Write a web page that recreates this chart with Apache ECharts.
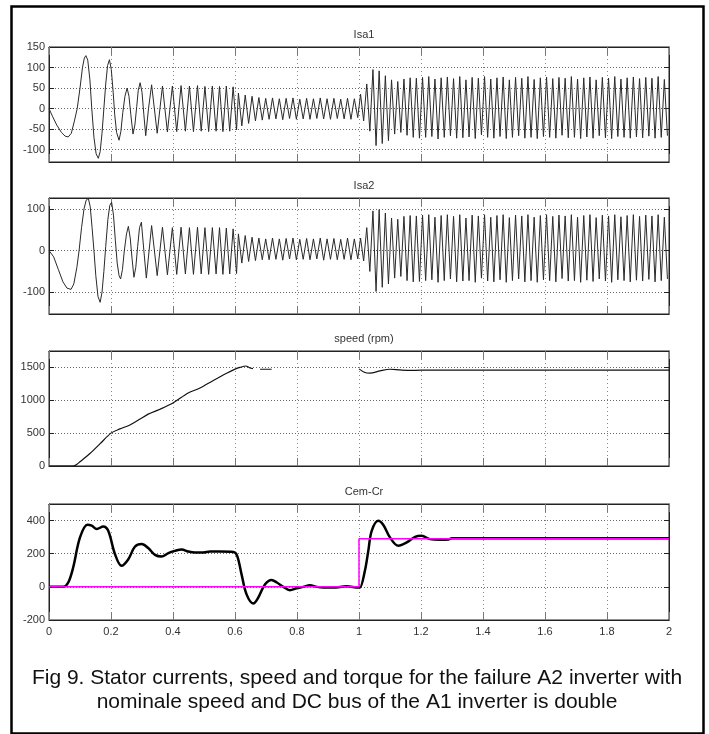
<!DOCTYPE html>
<html>
<head>
<meta charset="utf-8">
<script src="https://cdn.jsdelivr.net/npm/echarts@6/dist/echarts.min.js"></script>
<style>
  html, body { margin: 0; padding: 0; background: #fff; }
  #chart { width: 709px; height: 734px; }
</style>
</head>
<body>
<div id="chart"></div>
<script>
// ---- Stator current Isa1 (A) ----
// start-up transient, [time s, current A]
const isa1Start = [
  [0,0],[0.012,-20],[0.025,-40],[0.04,-58],[0.052,-67],[0.062,-69],[0.072,-60],[0.082,-30],
  [0.091,0],[0.1,50],[0.108,100],[0.114,123],[0.119,129],[0.125,118],[0.132,70],[0.138,0],
  [0.145,-70],[0.152,-110],[0.159,-121],[0.165,-105],[0.171,-60],[0.177,0],[0.183,60],[0.189,105],
  [0.195,119],[0.201,95],[0.207,40],[0.212,-15],[0.218,-58],[0.226,-77],[0.232,-55],[0.238,-10],
  [0.245,30],[0.252,50],[0.258,30],[0.264,-15],[0.271,-62],[0.277,-40],[0.283,5],[0.288,45],
  [0.294,63],[0.3,40],[0.306,-15],[0.312,-66],[0.321,0],[0.331,58],[0.349,-60],[0.366,55],
  [0.382,-57],[0.398,55],[0.412,-56],[0.426,56],[0.44,-55],[0.453,55],[0.466,-56],[0.479,56],
  [0.491,-55],[0.503,54],[0.515,-56],[0.527,55],[0.539,-55],[0.55,54],[0.561,-56],[0.572,55],
  [0.583,-55],[0.594,53],[0.605,-52]
];
// half-cycle peaks after the A2 failure (sampled every 11 ms from 0.611 s)
const isa1FaultStart = 0.611, isa1FaultStep = 0.011;
const isa1Fault = [38,-42,33,-36,30,-30,27,-28,25,-26,26,-25,24,-27,25,-24,26,-26,23,-25,
  25,-26,24,-24,26,-25,24,-26,25,-24,23,-25,25,-26,24,-22];
// half-cycle peaks with doubled DC bus (every 10 ms from 1.005 s)
const isa1DoubleStart = 1.005, isa1DoubleStep = 0.01;
const isa1Double = [
  35,-30,60,-55,95,-90,92,-85,80,-78, 70,-62,66,-58,72,-65,75,-70,74,-72,
  76,-70,78,-68,72,-74,75,-70,77,-66, 73,-72,78,-71,70,-69,76,-73,74,-64,
  78,-70,72,-72,75,-68,77,-73,70,-70, 76,-66,74,-72,78,-70,71,-73,75,-68,
  77,-70,73,-72,76,-65,74,-71,78,-70, 72,-73,75,-69,77,-72,70,-66,76,-71,
  74,-73,78,-68,72,-70,75,-72,77,-69, 73,-71,76,-67,74,-72,78,-70,71,-66];

// ---- Stator current Isa2 (A) ----
const isa2Start = [
  [0,0],[0.015,-15],[0.03,-45],[0.045,-75],[0.058,-90],[0.071,-93],[0.08,-80],[0.09,-40],
  [0.097,0],[0.105,55],[0.113,100],[0.12,121],[0.127,125],[0.133,105],[0.139,55],[0.145,0],
  [0.151,-60],[0.158,-110],[0.165,-124],[0.171,-100],[0.177,-50],[0.183,10],[0.19,75],[0.196,108],
  [0.202,116],[0.208,85],[0.214,25],[0.22,-30],[0.226,-60],[0.231,-68],[0.237,-45],[0.243,0],
  [0.25,40],[0.256,58],[0.262,30],[0.268,-20],[0.274,-64],[0.28,-40],[0.286,10],[0.292,55],
  [0.298,68],[0.306,0],[0.314,-66],[0.331,60],[0.349,-60],[0.366,56],[0.382,-58],[0.398,55],
  [0.412,-57],[0.426,56],[0.44,-56],[0.453,55],[0.466,-57],[0.479,56],[0.491,-56],[0.503,55],
  [0.515,-57],[0.527,55],[0.539,-56],[0.55,55],[0.561,-57],[0.572,54],[0.583,-56],[0.594,52],
  [0.605,-55]
];
const isa2FaultStart = 0.611, isa2FaultStep = 0.011;
const isa2Fault = [40,-30,36,-26,32,-24,30,-22,28,-22,30,-21,28,-23,29,-20,30,-22,27,-21,
  29,-22,28,-20,30,-23,28,-21,29,-22,27,-21,30,-22,28,-20];
const isa2DoubleStart = 1.005, isa2DoubleStep = 0.01;
const isa2Double = [
  30,-25,55,-50,95,-98,98,-88,90,-80, 78,-66,75,-62,82,-72,84,-75,83,-74,
  85,-72,86,-70,80,-76,84,-72,86,-68, 82,-75,86,-73,78,-72,85,-76,83,-66,
  86,-73,80,-75,84,-70,86,-76,79,-72, 85,-68,83,-75,86,-72,80,-76,84,-70,
  86,-72,82,-75,85,-67,83,-73,86,-72, 80,-76,84,-71,86,-74,79,-68,85,-73,
  83,-76,86,-70,81,-72,84,-75,86,-71, 82,-73,85,-69,83,-75,86,-72,80,-68];

// ---- Speed (rpm), recorded in three pieces ----
const speedRun = [
  [0,0],[0.078,0],[0.09,25],[0.1,65],[0.132,190],[0.165,340],[0.2,500],[0.229,565],
  [0.261,624],[0.294,714],[0.32,789],[0.358,864],[0.401,963],[0.449,1112],[0.487,1187],
  [0.53,1302],[0.573,1412],[0.602,1478],[0.616,1500],[0.635,1522],[0.648,1492],[0.658,1482]
];
const speedShort = [[0.681,1472],[0.718,1472]];
const speedDouble = [
  [1.0,1478],[1.019,1422],[1.035,1412],[1.068,1447],[1.1,1472],[1.132,1462],[1.166,1455],
  [1.2,1458],[2.0,1458]
];

// ---- Electromagnetic torque Cem and load torque Cr (N.m) ----
const cem = [
  [0,0],[0.046,0],[0.062,26],[0.078,117],[0.1,298],[0.124,375],[0.138,369],[0.154,349],
  [0.175,364],[0.191,338],[0.213,197],[0.234,127],[0.256,167],[0.277,242],[0.299,258],
  [0.32,234],[0.342,193],[0.363,183],[0.385,204],[0.406,217],[0.428,225],[0.449,213],
  [0.471,207],[0.498,207],[0.519,213],[0.552,213],[0.595,211],[0.607,187],[0.621,77],
  [0.637,-44],[0.659,-101],[0.675,-65],[0.697,16],[0.718,42],[0.735,26],[0.756,0],
  [0.777,-20],[0.799,-8],[0.82,0],[0.842,10],[0.864,0],[0.885,-4],[0.917,-4],[0.96,3],
  [1.0,-4],[1.003,-4],[1.019,97],[1.03,217],[1.041,338],[1.062,399],[1.078,375],[1.1,298],
  [1.127,248],[1.154,268],[1.181,302],[1.202,308],[1.229,288],[1.261,284],[1.288,286],
  [1.3,293],[2.0,293]
];
const cr = [[0,0],[1.0,0],[1.0,290],[2.0,290]];

// ---- Axes and text ----
const panelTitles = ['Isa1', 'Isa2', 'speed (rpm)', 'Cem-Cr'];
const yRanges = [[-130, 150], [-152, 126], [0, 1750], [-200, 500]];
const yStep = [50, 100, 500, 200];
const caption = [
  'Fig 9. Stator currents, speed and torque for the failure A2 inverter with',
  'nominale speed and DC bus of the A1 inverter is double'
];

// sampled half-cycle peaks -> [t, value]
function sampled(t0, dt, vals) {
  return vals.map((v, i) => [+(t0 + i * dt).toFixed(4), v]);
}
const isa1 = isa1Start.concat(sampled(isa1FaultStart, isa1FaultStep, isa1Fault),
                              sampled(isa1DoubleStart, isa1DoubleStep, isa1Double));
const isa2 = isa2Start.concat(sampled(isa2FaultStart, isa2FaultStep, isa2Fault),
                              sampled(isa2DoubleStart, isa2DoubleStep, isa2Double));

const FONT = "'Liberation Sans Narrow', 'Liberation Sans', Arial, sans-serif";
const panelTop = [47, 198, 351, 504];
const panelHeight = [115, 116, 115, 116];

const grids = [], xAxes = [], yAxes = [], titles = [];
panelTop.forEach((top, i) => {
  grids.push({ left: 49, top: top, width: 620, height: panelHeight[i],
               show: true, borderColor: '#222', borderWidth: 1, backgroundColor: '#fff' });
  // bottom axis
  xAxes.push({
    type: 'value', gridIndex: i, min: 0, max: 2, interval: 0.2,
    axisLine: { show: true, onZero: false, lineStyle: { color: '#222' } },
    axisTick: { show: true, inside: true, length: 8, lineStyle: { color: '#777' } },
    axisLabel: { show: i === 3, color: '#333', fontFamily: FONT, fontSize: 11, margin: 6,
                 formatter: v => String(+v.toFixed(1)) },
    splitLine: { show: true, lineStyle: { type: [1, 3], color: '#888', width: 1 } }
  });
  // top axis carrying inward ticks
  xAxes.push({
    type: 'value', gridIndex: i, position: 'top', min: 0, max: 2, interval: 0.2,
    axisLine: { show: true, onZero: false, lineStyle: { color: '#222' } },
    axisTick: { show: true, inside: true, length: 8, lineStyle: { color: '#777' } },
    axisLabel: { show: false }, splitLine: { show: false }
  });
  const step = yStep[i];
  const keep = v => Math.abs(v / step - Math.round(v / step)) < 1e-6;
  yAxes.push({
    type: 'value', gridIndex: i, min: yRanges[i][0], max: yRanges[i][1],
    minInterval: step, maxInterval: step,
    axisLine: { show: true, onZero: false, lineStyle: { color: '#222' } },
    axisTick: { show: true, inside: true, length: 5, lineStyle: { color: '#222' } },
    axisLabel: { color: '#333', fontFamily: FONT, fontSize: 11, margin: 4,
                 formatter: v => keep(v) ? String(v) : '' },
    splitLine: { show: true, lineStyle: { type: [1, 2], color: '#666', width: 1 } }
  });
  yAxes.push({
    type: 'value', gridIndex: i, position: 'right', min: yRanges[i][0], max: yRanges[i][1],
    minInterval: step, maxInterval: step,
    axisLine: { show: true, onZero: false, lineStyle: { color: '#222' } },
    axisTick: { show: true, inside: true, length: 5, lineStyle: { color: '#222' } },
    axisLabel: { show: false }, splitLine: { show: false }
  });
  titles.push({
    text: panelTitles[i], left: 359, top: top - 23, textAlign: 'center',
    textStyle: { fontFamily: FONT, fontSize: 11, fontWeight: 'normal', color: '#333' }
  });
});

function line(data, xi, yi, color, width, smooth) {
  return { type: 'line', data: data, xAxisIndex: xi, yAxisIndex: yi, showSymbol: false,
           smooth: smooth || false, animation: false,
           lineStyle: { color: color, width: width }, z: 3 };
}

const chart = echarts.init(document.getElementById('chart'), null, { renderer: 'canvas' });
chart.setOption({
  backgroundColor: '#fff',
  animation: false,
  title: titles,
  grid: grids,
  xAxis: xAxes,
  yAxis: yAxes,
  graphic: [
    { type: 'rect', left: 9, top: 4, shape: { width: 692, height: 727 },
      style: { fill: null, stroke: '#000', lineWidth: 2.5 }, z: 100 },
    { type: 'text', x: 357, y: 666,
      style: { text: caption.join('\n'), fill: '#111', align: 'center',
               font: "21px 'Liberation Sans', Arial, sans-serif", lineHeight: 24 } }
  ],
  series: [
    line(isa1, 0, 0, '#2a2a2a', 1),
    line(isa2, 2, 2, '#2a2a2a', 1),
    line(speedRun, 4, 4, '#111', 1.2, 0.3),
    line(speedShort, 4, 4, '#111', 1.2),
    line(speedDouble, 4, 4, '#111', 1.2, 0.3),
    line(cem, 6, 6, '#000', 2.5, 0.35),
    line(cr, 6, 6, '#ff00ff', 1.5)
  ]
});
</script>
</body>
</html>
